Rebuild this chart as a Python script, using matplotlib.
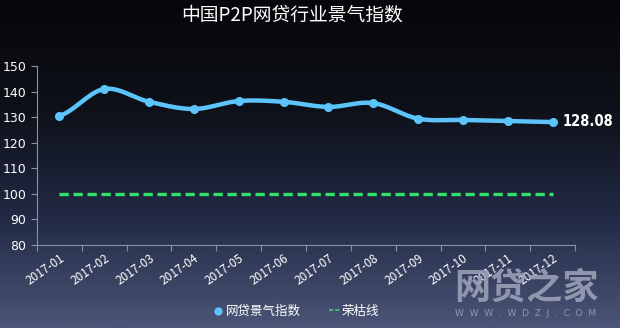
import numpy as np
import matplotlib.pyplot as plt
from matplotlib.colors import LinearSegmentedColormap

plt.rcParams['font.family'] = ['Noto Sans CJK SC', 'DejaVu Sans']

months = ['2017-01', '2017-02', '2017-03', '2017-04', '2017-05', '2017-06',
          '2017-07', '2017-08', '2017-09', '2017-10', '2017-11', '2017-12']
index_vals = [130.5, 141.0, 136.0, 133.2, 136.3, 136.0,
              134.0, 135.5, 129.4, 128.9, 128.5, 128.08]
boom_line = [100] * len(months)
yticks = [80, 90, 100, 110, 120, 130, 140, 150]

blue = '#5cc4fb'
green = '#2fe06a'
axis_col = '#8a92a6'


def smooth(xs, ys, n=20):
    # catmull-rom style curve through the monthly points
    xs = np.asarray(xs, float)
    ys = np.asarray(ys, float)
    px = np.concatenate([[2 * xs[0] - xs[1]], xs, [2 * xs[-1] - xs[-2]]])
    py = np.concatenate([[ys[0]], ys, [ys[-1]]])
    ox, oy = [], []
    for i in range(1, len(px) - 2):
        t = np.linspace(0, 1, n, endpoint=False)
        for p, o in ((px, ox), (py, oy)):
            p0, p1, p2, p3 = p[i - 1], p[i], p[i + 1], p[i + 2]
            o.extend(0.5 * (2 * p1 + (-p0 + p2) * t
                            + (2 * p0 - 5 * p1 + 4 * p2 - p3) * t ** 2
                            + (-p0 + 3 * p1 - 3 * p2 + p3) * t ** 3))
    ox.append(xs[-1])
    oy.append(ys[-1])
    return np.array(ox), np.array(oy)


fig = plt.figure(figsize=(6.2, 3.28), dpi=100)

# dark-to-slate vertical gradient behind everything
bg = fig.add_axes([0, 0, 1, 1], zorder=-10)
cmap = LinearSegmentedColormap.from_list(
    'bg', ['#06070a', '#0e1119', '#222a45', '#4b5577'])
grad = np.linspace(0, 1, 256).reshape(-1, 1)
bg.imshow(grad, aspect='auto', cmap=cmap, extent=[0, 1, 0, 1])
bg.set_axis_off()

ax = fig.add_axes([37 / 620, 1 - 245 / 328, (575 - 37) / 620, (245 - 66) / 328])
ax.patch.set_alpha(0)

x = np.arange(len(months))
sx, sy = smooth(x, index_vals)
ax.plot(sx, sy, color=blue, lw=3.2, solid_capstyle='round', zorder=3)
ax.plot(x, index_vals, 'o', color=blue, ms=5.5, zorder=4)
ax.plot(x, boom_line, color=green, lw=2.4, dashes=(2.8, 1.4), zorder=2)

ax.text(x[-1] + 0.22, index_vals[-1] + 0.3, f'{index_vals[-1]:.2f}',
        color='white', fontsize=10.5, fontweight='bold', fontstretch='condensed',
        va='center', ha='left', family='DejaVu Sans')

ax.set_xlim(-0.5, len(months) - 0.5)
ax.set_ylim(80, 150)
ax.set_yticks(yticks)
ax.set_xticks(np.arange(len(months) + 1) - 0.5)
ax.set_xticklabels([])
ax.set_xticks(x, minor=True)
ax.set_xticklabels(months, minor=True, rotation=35, ha='right',
                   rotation_mode='anchor', fontsize=8.5, color='white')
ax.tick_params(axis='x', which='minor', length=0, pad=5)
ax.tick_params(axis='x', which='major', length=4, color=axis_col)
ax.tick_params(axis='y', length=4, color=axis_col, labelcolor='white',
               labelsize=9)
for lab in ax.get_yticklabels():
    lab.set_family('DejaVu Sans')
for s in ('top', 'right'):
    ax.spines[s].set_visible(False)
for s in ('left', 'bottom'):
    ax.spines[s].set_color(axis_col)
    ax.spines[s].set_linewidth(0.8)

fig.text(292 / 620, 1 - 15 / 328, '中国P2P网贷行业景气指数', color='white',
         fontsize=13.5, ha='center', va='center')

# legend
fig.lines.append(plt.Line2D([218 / 620], [1 - 311 / 328], marker='o', ms=5,
                            color=blue, transform=fig.transFigure))
fig.text(226 / 620, 1 - 311 / 328, '网贷景气指数', color='white', fontsize=9,
         va='center')
fig.lines.append(plt.Line2D([329 / 620, 340 / 620], [1 - 310 / 328] * 2,
                            color='#3fb27a', lw=1.5, dashes=(2, 1),
                            transform=fig.transFigure))
fig.text(342 / 620, 1 - 311 / 328, '荣枯线', color='white', fontsize=9,
         va='center')

# site watermark
fig.text(526 / 620, 1 - 288 / 328, '网贷之家', color='#9aa0b6', alpha=0.9,
         fontsize=26, fontweight='heavy', ha='center', va='center')
fig.text(526 / 620, 1 - 314 / 328, 'W  W  W  .  W  D  Z  J  .  C  O  M',
         color='#9aa0b6', alpha=0.9, fontsize=6.5, ha='center', va='center',
         family='DejaVu Sans')

fig.savefig('out.png', dpi=100)
